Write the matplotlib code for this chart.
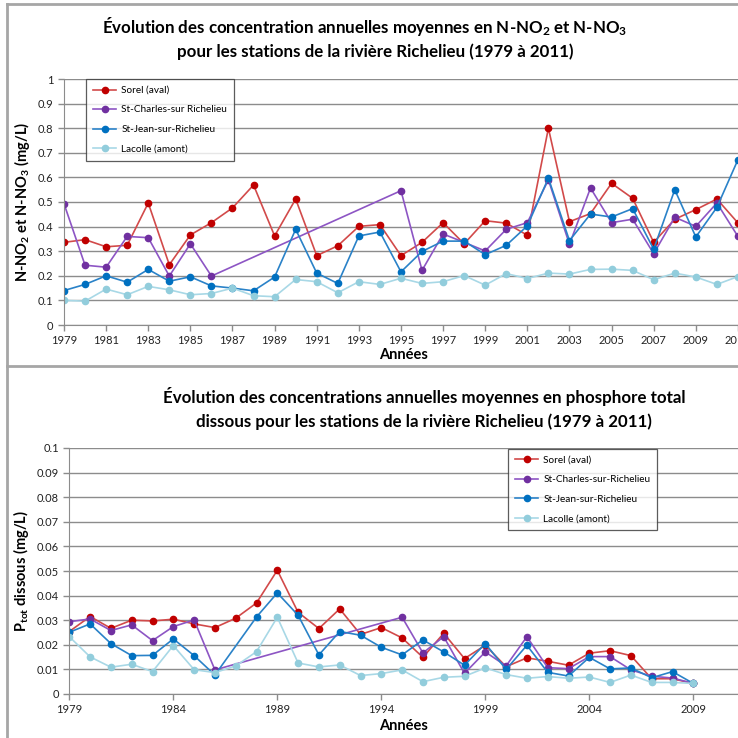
import numpy as np
import matplotlib
matplotlib.use('Agg')
from matplotlib import pyplot as plt
from matplotlib.lines import Line2D

plt.rcParams['font.family'] = ['Lato', 'DejaVu Sans']
plt.rcParams['mathtext.fontset'] = 'custom'
plt.rcParams['mathtext.rm'] = 'Lato'
plt.rcParams['mathtext.it'] = 'Lato:italic'
plt.rcParams['mathtext.bf'] = 'Lato:bold'

# ---- data: N-NO2 et N-NO3 (top chart) ----
years_n = list(range(1979, 2012))
sorel_n = [0.336, 0.347, 0.318, 0.324, 0.496, 0.245, 0.366, 0.416, 0.476, 0.569,
           0.362, 0.512, 0.282, 0.322, 0.401, 0.408, 0.282, 0.336, 0.416, 0.330,
           0.424, 0.414, 0.365, 0.800, 0.420, 0.453, 0.576, 0.515, 0.336, 0.430,
           0.469, 0.512, 0.415]
# St-Charles: pas de données 1987-1994
charles_n = [0.493, 0.243, 0.235, 0.360, 0.355, 0.199, 0.330, 0.199, None, None,
             None, None, None, None, None, None, 0.546, 0.222, 0.370, 0.336,
             0.301, 0.389, 0.416, 0.590, 0.328, 0.557, 0.416, 0.430, 0.290, 0.438,
             0.401, 0.496, 0.360]
jean_n = [0.140, 0.165, 0.200, 0.174, 0.226, 0.178, 0.196, 0.159, 0.150, 0.139,
          0.195, 0.389, 0.211, 0.169, 0.362, 0.378, 0.216, 0.299, 0.341, 0.341,
          0.286, 0.324, 0.403, 0.597, 0.343, 0.451, 0.439, 0.473, 0.308, 0.550,
          0.358, 0.478, 0.672]
lacolle_n = [0.100, 0.097, 0.146, 0.123, 0.157, 0.143, 0.123, 0.128, 0.150, 0.119,
             0.115, 0.185, 0.176, 0.131, 0.176, 0.165, 0.190, 0.169, 0.176, 0.201,
             0.162, 0.209, 0.189, 0.211, 0.207, 0.226, 0.227, 0.222, 0.184, 0.211,
             0.195, 0.165, 0.197]

# ---- data: phosphore total dissous (bottom chart) ----
years_p = list(range(1979, 2010))
sorel_p = [0.0254, 0.0315, 0.0267, 0.0300, 0.0297, 0.0304, 0.0285, 0.0270, 0.0308, 0.0370,
           0.0503, 0.0332, 0.0266, 0.0346, 0.0242, 0.0270, 0.0228, 0.0149, 0.0247, 0.0144,
           0.0198, 0.0111, 0.0147, 0.0133, 0.0117, 0.0166, 0.0176, 0.0156, 0.0062, 0.0062,
           0.0043]
charles_p = [0.0294, 0.0305, 0.0258, 0.0281, 0.0217, 0.0274, 0.0301, 0.0098, None, None,
             None, None, None, None, None, None, 0.0312, 0.0167, 0.0233, 0.0084,
             0.0171, 0.0114, 0.0233, 0.0107, 0.0103, 0.0152, 0.0152, 0.0098, 0.0072, 0.0065,
             0.0043]
jean_p = [0.0251, 0.0285, 0.0205, 0.0156, 0.0157, 0.0224, 0.0156, 0.0077, None, 0.0313,
          0.0411, 0.0320, 0.0159, 0.0254, 0.0239, 0.0190, 0.0159, 0.0220, 0.0171, 0.0117,
          0.0205, 0.0100, 0.0198, 0.0088, 0.0073, 0.0149, 0.0102, 0.0106, 0.0066, 0.0091,
          0.0043]
lacolle_p = [0.0233, 0.0151, 0.0109, 0.0121, 0.0091, 0.0197, 0.0099, 0.0087, 0.0114, 0.0172,
             0.0312, 0.0126, 0.0110, 0.0118, 0.0075, 0.0083, 0.0098, 0.0050, 0.0068, 0.0072,
             0.0106, 0.0079, 0.0064, 0.0071, 0.0064, 0.0069, 0.0047, 0.0077, 0.0047, 0.0047,
             0.0043]

labels_n = ['Sorel (aval)', 'St-Charles-sur Richelieu', 'St-Jean-sur-Richelieu', 'Lacolle (amont)']
labels_p = ['Sorel (aval)', 'St-Charles-sur-Richelieu', 'St-Jean-sur-Richelieu', 'Lacolle (amont)']
line_colors = ['#d24a4a', '#8d55c4', '#2a82c8', '#a8d8e6']
marker_colors = ['#c00000', '#7030a0', '#0070c0', '#92cddc']


def draw_series(ax, years, series_list, labels):
    for vals, lab, lc, mc in zip(series_list, labels, line_colors, marker_colors):
        x = [y for y, v in zip(years, vals) if v is not None]
        y = [v for v in vals if v is not None]
        ax.plot(x, y, color=lc, linewidth=1.2, marker='o', markersize=4.5,
                markerfacecolor=mc, markeredgecolor=mc, label=lab, clip_on=True)


def style_axes(ax):
    ax.grid(True, axis='y', color='#8c8c8c', linewidth=1)
    ax.set_axisbelow(True)
    for s in ['top', 'right']:
        ax.spines[s].set_visible(False)
    for s in ['left', 'bottom']:
        ax.spines[s].set_color('#8c8c8c')
    ax.tick_params(axis='both', colors='#8c8c8c', labelcolor='#222222',
                   labelsize=8, length=4, width=1)


fig = plt.figure(figsize=(7.38, 7.38), dpi=100)

# panel frames
fig.add_artist(Line2D([7 / 738, 7 / 738], [0, 1 - 4 / 738], color='#a6a6a6', lw=2))
fig.add_artist(Line2D([7 / 738, 1], [1 - 4 / 738, 1 - 4 / 738], color='#a6a6a6', lw=2))
fig.add_artist(Line2D([7 / 738, 1], [1 - 366 / 738, 1 - 366 / 738], color='#a6a6a6', lw=2))

# ---- top chart ----
ax1 = fig.add_axes([64 / 738, 1 - 325 / 738, 695 / 738, 246 / 738])
draw_series(ax1, years_n, [sorel_n, charles_n, jean_n, lacolle_n], labels_n)
style_axes(ax1)
ax1.set_xlim(1979, 2012)
ax1.set_ylim(0, 1)
ax1.set_yticks(np.arange(0, 1.01, 0.1))
ax1.set_yticklabels(['0', '0.1', '0.2', '0.3', '0.4', '0.5', '0.6', '0.7', '0.8', '0.9', '1'])
ax1.set_xticks(range(1979, 2012, 2))
ax1.set_ylabel(r'N-NO$_\mathbf{2}$ et N-NO$_\mathbf{3}$ (mg/L)', fontsize=10.5,
               fontweight='bold', labelpad=4)
ax1.set_xlabel('Années', fontsize=10.5, fontweight='bold')
ax1.xaxis.set_label_coords((404 - 64) / 695, -0.095)
leg1 = ax1.legend(loc='upper left', bbox_to_anchor=(0.032, 1.0), borderaxespad=0,
                  fontsize=7.2, frameon=True, fancybox=False, handlelength=2.3,
                  handletextpad=0.5, labelspacing=1.05, borderpad=0.7)
leg1.get_frame().set_edgecolor('#333333')
leg1.get_frame().set_linewidth(0.9)
fig.text(365 / 738, 1 - 27 / 738,
         r'Évolution des concentration annuelles moyennes en N-NO$_\mathbf{2}$ et N-NO$_\mathbf{3}$',
         ha='center', va='center', fontsize=12.2, fontweight='bold')
fig.text(375 / 738, 1 - 52 / 738, 'pour les stations de la rivière Richelieu (1979 à 2011)',
         ha='center', va='center', fontsize=12.2, fontweight='bold')

# ---- bottom chart ----
ax2 = fig.add_axes([69.3 / 738, 1 - 694 / 738, 690 / 738, 246 / 738])
draw_series(ax2, years_p, [sorel_p, charles_p, jean_p, lacolle_p], labels_p)
style_axes(ax2)
ax2.set_xlim(1979, 1979 + 690 / 20.8)
ax2.set_ylim(0, 0.1)
ax2.set_yticks(np.arange(0, 0.101, 0.01))
ax2.set_yticklabels(['0', '0.01', '0.02', '0.03', '0.04', '0.05', '0.06', '0.07', '0.08', '0.09', '0.1'])
ax2.set_xticks(range(1979, 2010, 5))
ax2.set_ylabel(r'P$_\mathbf{tot}$ dissous (mg/L)', fontsize=10.5, fontweight='bold', labelpad=4)
ax2.set_xlabel('Années', fontsize=10.5, fontweight='bold')
ax2.xaxis.set_label_coords((404 - 69.3) / 690, -0.1)
leg2 = ax2.legend(loc='upper left', bbox_to_anchor=(0.636, 0.996), borderaxespad=0,
                  fontsize=7.2, frameon=True, fancybox=False, handlelength=2.3,
                  handletextpad=0.5, labelspacing=1.05, borderpad=0.7)
leg2.get_frame().set_edgecolor('#333333')
leg2.get_frame().set_linewidth(0.9)
fig.text(424 / 738, 1 - 396 / 738,
         'Évolution des concentrations annuelles moyennes en phosphore total',
         ha='center', va='center', fontsize=12.2, fontweight='bold')
fig.text(424 / 738, 1 - 422 / 738, 'dissous pour les stations de la rivière Richelieu (1979 à 2011)',
         ha='center', va='center', fontsize=12.2, fontweight='bold')

plt.savefig('out.png', dpi=100)
plt.close()
